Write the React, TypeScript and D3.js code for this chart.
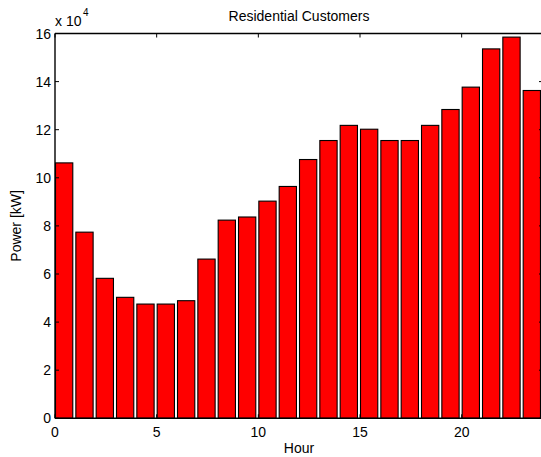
import React from "react";
import * as d3 from "d3";

// Hourly residential load, kW
const hours = d3.range(24);
const power = [
  106200, 77400, 58200, 50300, 47500, 47500, 48900, 66200,
  82400, 83700, 90300, 96400, 107600, 115500, 121800, 120200,
  115500, 115500, 121800, 128400, 137700, 153600, 158500, 136300,
];
const xTicks = [0, 5, 10, 15, 20];
const yTicks = [0, 2, 4, 6, 8, 10, 12, 14, 16];

const W = 541;
const H = 457;
const left = 55;
const right = 543;
const top = 33.5;
const bottom = 418.3;
const font = "Liberation Sans, Arial, sans-serif";

export default function App() {
  const x = d3.scaleLinear().domain([0, 24]).range([left, right]);
  const y = d3.scaleLinear().domain([0, 160000]).range([bottom, top]);
  const bw = 0.85;
  const off = 0.45;
  const tl = 4;

  return (
    <svg
      width={W}
      height={H}
      style={{ position: "absolute", left: 0, top: 0, background: "#fff" }}
      fontFamily={font}
    >
      <rect x={0} y={0} width={W} height={H} fill="#fff" />
      <g>
        {hours.map((h, i) => {
          const x0 = x(h + off - bw / 2);
          const x1 = x(h + off + bw / 2);
          return (
            <rect
              key={h}
              x={x0}
              y={y(power[i])}
              width={x1 - x0}
              height={bottom - y(power[i])}
              fill="#ff0000"
              stroke="#000"
              strokeWidth={1.1}
            />
          );
        })}
      </g>
      {/* axes box */}
      <g stroke="#000" strokeWidth={1.4} fill="none">
        <line x1={left} x2={right} y1={bottom} y2={bottom} />
        <line x1={left} x2={right} y1={top} y2={top} />
        <line x1={left} x2={left} y1={top} y2={bottom} />
        <line x1={right} x2={right} y1={top} y2={bottom} />
      </g>
      <g stroke="#000" strokeWidth={1}>
        {xTicks.map((t) => (
          <g key={t}>
            <line x1={x(t)} x2={x(t)} y1={bottom} y2={bottom - tl} />
            <line x1={x(t)} x2={x(t)} y1={top} y2={top + tl} />
          </g>
        ))}
        {yTicks.map((t) => (
          <g key={t}>
            <line x1={left} x2={left + tl} y1={y(t * 10000)} y2={y(t * 10000)} />
            <line x1={right} x2={right - tl} y1={y(t * 10000)} y2={y(t * 10000)} />
          </g>
        ))}
      </g>
      <g fontSize={14} fill="#000">
        {xTicks.map((t) => (
          <text key={t} x={x(t)} y={bottom + 19} textAnchor="middle">
            {t}
          </text>
        ))}
        {yTicks.map((t) => (
          <text key={t} x={left - 4} y={y(t * 10000) + 5} textAnchor="end">
            {t}
          </text>
        ))}
        <text x={left} y={26}>
          x 10
        </text>
        <text x={left + 28} y={16} fontSize={10}>
          4
        </text>
        <text x={(left + right) / 2} y={21} textAnchor="middle">
          Residential Customers
        </text>
        <text x={(left + right) / 2} y={453} textAnchor="middle">
          Hour
        </text>
        <text
          transform={`translate(21, ${(top + bottom) / 2}) rotate(-90)`}
          textAnchor="middle"
        >
          Power [kW]
        </text>
      </g>
    </svg>
  );
}
